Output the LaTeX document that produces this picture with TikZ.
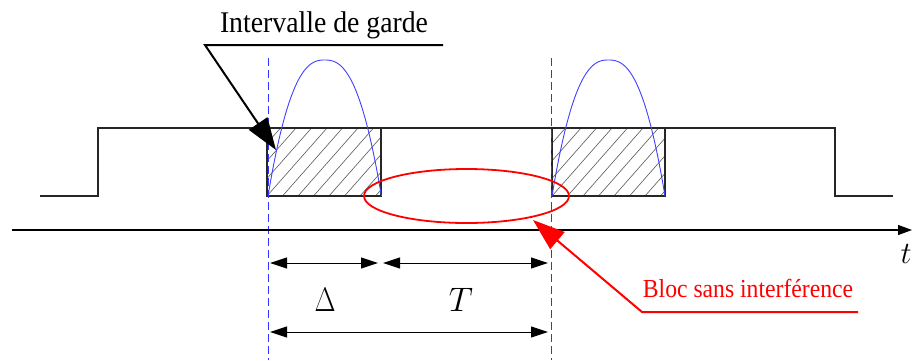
\RequirePackage{fix-cm}
\documentclass[tikz,border=0pt]{standalone}
\usepackage{fontspec}
\setmainfont{Liberation Serif}
\usetikzlibrary{arrows.meta}
\begin{document}
\begin{tikzpicture}[x=1pt,y=-1pt,
  sig/.style={line width=1.2pt, draw=black!85},
  guardline/.style={draw=blue!80, dash pattern=on 8pt off 4pt, line width=0.9pt},
  wave/.style={draw=blue!75, line width=0.9pt},
  hatch/.style={draw=black!65, line width=0.6pt},
  dimline/.style={line width=1pt, {Triangle[length=17pt,width=11pt]}-{Triangle[length=17pt,width=11pt]}},
  lbl/.style={inner sep=0pt, anchor=base},
  bigarrow/.style={-{Triangle[length=32pt,width=22pt]}},
]
\useasboundingbox (0,0) rectangle (912,360);

% hatching
\foreach \xa/\xb in {267/381, 552/665}{
  \begin{scope}
    \clip (\xa,128) rectangle (\xb,196);
    \foreach \i in {-5,...,9}
      \draw[hatch] (\xa+\i*15.5,196) -- ++(60,-68);
  \end{scope}
}

% signal
\coordinate (s0) at (40,196);
\coordinate (s1) at (98,196);
\coordinate (s2) at (98,128);
\coordinate (s3) at (835,128);
\coordinate (s4) at (835,196);
\coordinate (s5) at (893,196);
\draw[sig] (s0) -- (s1) -- (s2) -- (s3) -- (s4) -- (s5);

% guard rectangles
\draw[sig] (267,128) rectangle (381,196);
\draw[sig] (552,128) rectangle (665,196);

% waves
\draw[wave] plot[domain=268:381.4, samples=80, smooth]
  (\x, {196-136*(1-pow(abs((\x-324.7)/56.7)+0.00001,2.5))});
\draw[wave] plot[domain=552:665, samples=80, smooth]
  (\x, {196-136*(1-pow(abs((\x-608.5)/56.5)+0.00001,2.5))});

% dashed guard lines
\coordinate (g1t) at (268,58);
\coordinate (g1b) at (268,360);
\coordinate (g2t) at (551,58);
\coordinate (g2b) at (551,360);
\draw[guardline] (g1t) -- (g1b);
\draw[guardline] (g2t) -- (g2b);

% time axis
\coordinate (ax0) at (12,230);
\coordinate (ax1) at (912,230);
\draw[line width=1.2pt, -{Triangle[length=14pt,width=10pt]}] (ax0) -- (ax1);
\node[inner sep=0pt] (tlab) at (906,254) {\fontsize{31}{34}\selectfont$t$};

% Intervalle de garde
\node[lbl] (ig) at (324,32) {\fontsize{30}{34}\selectfont\scalebox{0.925}[1]{Intervalle de garde}};
\coordinate (igR) at (443,45);
\coordinate (igL) at (205,45);
\coordinate (igT) at (276,150);
\draw[line width=2pt, bigarrow] (igR) -- (igL) -- (igT);

% red ellipse and label
\draw[red, line width=1.8pt] (466.5,196) ellipse [x radius=102.5, y radius=27];
\node[lbl, text=red] (bloc) at (748,297) {\fontsize{26}{30}\selectfont\scalebox{0.91}[1]{Bloc sans interférence}};
\coordinate (bR) at (858,312);
\coordinate (bL) at (642,312);
\coordinate (bT) at (533,220);
\draw[red, line width=2pt, bigarrow] (bR) -- (bL) -- (bT);

% dimensions
\coordinate (d1a) at (270,263);
\coordinate (d1b) at (378,263);
\coordinate (d2a) at (383,263);
\coordinate (d2b) at (548,263);
\coordinate (d3a) at (270,332);
\coordinate (d3b) at (548,332);
\draw[dimline] (d1a) -- (d1b);
\draw[dimline] (d2a) -- (d2b);
\draw[dimline] (d3a) -- (d3b);
\node[inner sep=0pt] (delta) at (325,300) {\fontsize{34}{38}\selectfont\scalebox{0.8}[1]{$\Delta$}};
\node[inner sep=0pt] (tt) at (461,300) {\fontsize{34}{38}\selectfont$T$};
\end{tikzpicture}
\end{document}
